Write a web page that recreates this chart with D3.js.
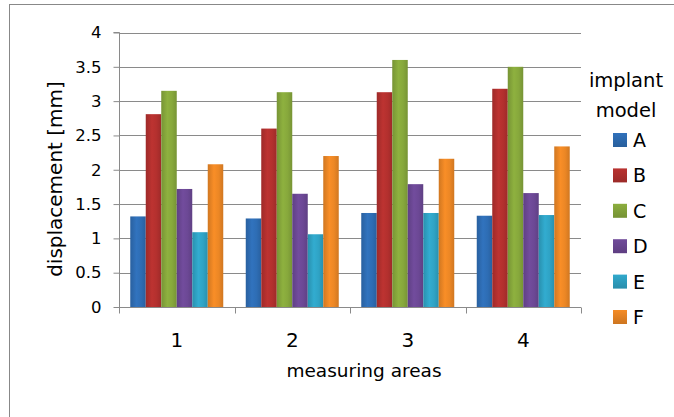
<!DOCTYPE html>
<html><head><meta charset="utf-8">
<script src="https://cdn.jsdelivr.net/npm/d3@7"></script>
<style>html,body{margin:0;padding:0;background:#fff;}svg{display:block;}</style>
</head><body>
<script>
const categories = ["1","2","3","4"];
const seriesNames = ["A","B","C","D","E","F"];
const valuesA = [1.32, 1.29, 1.37, 1.33];
const valuesB = [2.81, 2.60, 3.13, 3.18];
const valuesC = [3.15, 3.13, 3.60, 3.50];
const valuesD = [1.72, 1.65, 1.79, 1.66];
const valuesE = [1.09, 1.06, 1.37, 1.34];
const valuesF = [2.08, 2.20, 2.16, 2.34];
const seriesColors = ["#2e6db4","#b3302e","#87a83c","#6c4895","#2fa3c5","#ec8725"];
const yTicks = [0,0.5,1,1.5,2,2.5,3,3.5,4];
const yTitle = "displacement [mm]";
const xTitle = "measuring areas";
const legendTitle = ["implant","model"];

const series = [valuesA,valuesB,valuesC,valuesD,valuesE,valuesF];
const W = 674, H = 417;
const font = "'DejaVu Sans', sans-serif";
const svg = d3.select("body").append("svg").attr("width",W).attr("height",H);
const defs = svg.append("defs");
seriesColors.forEach((c,i)=>{
  const g = defs.append("linearGradient").attr("id","g"+i).attr("x1","0").attr("x2","1").attr("y1","0").attr("y2","0");
  const dk = d3.color(c).darker(0.35), lt = d3.color(c).brighter(0.15);
  g.append("stop").attr("offset","0%").attr("stop-color",dk);
  g.append("stop").attr("offset","40%").attr("stop-color",lt);
  g.append("stop").attr("offset","70%").attr("stop-color",c);
  g.append("stop").attr("offset","100%").attr("stop-color",dk);
  const gl = defs.append("linearGradient").attr("id","l"+i).attr("x1","0").attr("x2","0").attr("y1","0").attr("y2","1");
  gl.append("stop").attr("offset","0%").attr("stop-color",d3.color(c).brighter(0.1));
  gl.append("stop").attr("offset","100%").attr("stop-color",d3.color(c).darker(0.4));
});

// outer border
svg.append("rect").attr("x",9.5).attr("y",4.5).attr("width",W+20).attr("height",H+20)
  .attr("fill","none").attr("stroke","#888").attr("stroke-width",1);

const x0 = 119, x1 = 581, yTop = 32.5, yBot = 307;
const x = d3.scaleBand().domain(categories).range([x0,x1]).paddingInner(0).paddingOuter(0);
const xs = d3.scaleBand().domain(seriesNames).range([0,x.bandwidth()]).paddingInner(0).paddingOuter(0.726);
const y = d3.scaleLinear().domain([0,4]).range([yBot,yTop]);

// gridlines
svg.append("g").selectAll("line").data(yTicks.filter(d=>d>0)).join("line")
  .attr("x1",x0).attr("x2",x1).attr("y1",d=>Math.round(y(d))+0.5).attr("y2",d=>Math.round(y(d))+0.5)
  .attr("stroke","#8a8a8a").attr("stroke-width",1);

// bars
const bars = [];
series.forEach((vals,si)=>vals.forEach((v,ci)=>bars.push({si,ci,v})));
svg.append("g").selectAll("rect").data(bars).join("rect")
  .attr("x",d=>x(categories[d.ci])+xs(seriesNames[d.si]))
  .attr("width",xs.bandwidth())
  .attr("y",d=>y(d.v))
  .attr("height",d=>yBot-y(d.v))
  .attr("fill",d=>`url(#g${d.si})`);

// y axis
const yAxis = d3.axisLeft(y).tickValues(yTicks).tickSize(6).tickPadding(7).tickFormat(d3.format("~g"));
const ga = svg.append("g").attr("transform",`translate(${x0+0.5},0)`).call(yAxis);
ga.select(".domain").attr("stroke","#8a8a8a").attr("d",`M-6,${yTop}H0V${yBot}`);
ga.selectAll(".tick line").attr("stroke","#8a8a8a");
ga.selectAll("text").attr("font-family",font).attr("font-size",16.5).attr("fill","#000").attr("x",-18);

// x axis
const xAxis = d3.axisBottom(x).tickSize(0).tickPadding(25);
const gx = svg.append("g").attr("transform",`translate(0,${yBot+0.5})`).call(xAxis);
gx.select(".domain").attr("stroke","#8a8a8a").attr("d",`M${x0},0H${x1}`);
gx.selectAll("text").attr("font-family",font).attr("font-size",20).attr("fill","#000");
const bTicks = categories.map(c=>x(c)).concat([x1]);
gx.append("g").selectAll("line").data(bTicks).join("line")
  .attr("x1",d=>Math.round(d)+0.5).attr("x2",d=>Math.round(d)+0.5).attr("y1",0).attr("y2",6).attr("stroke","#8a8a8a");

// titles
svg.append("text").attr("transform","translate(62,179) rotate(-90)").attr("text-anchor","middle")
  .attr("font-family",font).attr("font-size",20).attr("fill","#000").text(yTitle);
svg.append("text").attr("x",364).attr("y",377).attr("text-anchor","middle")
  .attr("font-family",font).attr("font-size",18.5).attr("fill","#000").text(xTitle);

// legend
svg.append("g").selectAll("text").data(legendTitle).join("text")
  .attr("x",626).attr("y",(d,i)=>87+i*30).attr("text-anchor","middle")
  .attr("font-family",font).attr("font-size",19.5).attr("fill","#000").text(d=>d);
const lg = svg.append("g").selectAll("g").data(seriesNames).join("g")
  .attr("transform",(d,i)=>`translate(613,${133+i*35.4})`);
lg.append("rect").attr("width",14).attr("height",14).attr("fill",(d,i)=>`url(#l${i})`);
lg.append("text").attr("x",20).attr("y",14).attr("font-family",font).attr("font-size",19).attr("fill","#000").text(d=>d);
</script>
</body></html>
